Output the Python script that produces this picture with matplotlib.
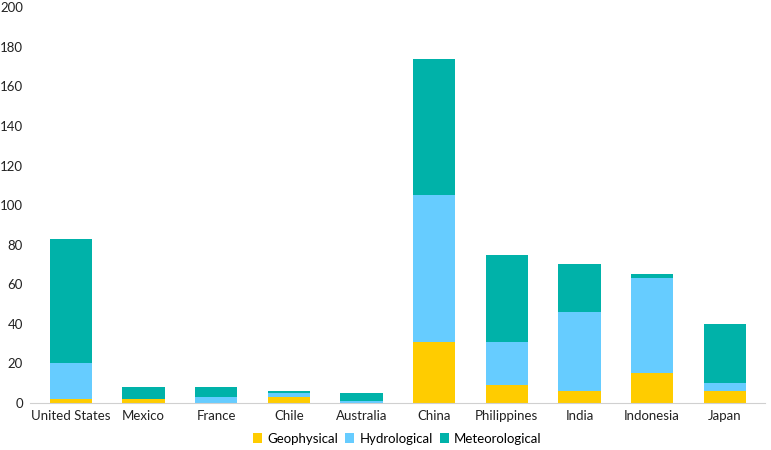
import matplotlib
matplotlib.use("Agg")
import matplotlib.pyplot as plt
import numpy as np

countries = ["United States", "Mexico", "France", "Chile", "Australia",
             "China", "Philippines", "India", "Indonesia", "Japan"]
geophysical = [2, 2, 0, 3, 0, 31, 9, 6, 15, 6]
hydrological = [18, 0, 3, 2, 1, 74, 22, 40, 48, 4]
meteorological = [63, 6, 5, 1, 4, 69, 44, 24, 2, 30]
yticks = [0, 20, 40, 60, 80, 100, 120, 140, 160, 180, 200]

plt.rcParams['font.family'] = ['Lato', 'DejaVu Sans']

fig = plt.figure(figsize=(7.71, 4.5), dpi=100)
ax = fig.add_axes([0.039, 0.1044, 0.953, 0.8796])

x = np.arange(len(countries))
w = 0.58
g = np.array(geophysical)
h = np.array(hydrological)
m = np.array(meteorological)
ax.bar(x, g, w, color="#FFCC00", label="Geophysical")
ax.bar(x, h, w, bottom=g, color="#66CCFF", label="Hydrological")
ax.bar(x, m, w, bottom=g + h, color="#00B2A9", label="Meteorological")

ax.set_ylim(0, 200)
ax.set_xlim(-0.56, 9.55)
ax.set_yticks(yticks)
ax.set_xticks(x)
ax.set_xticklabels(countries)
ax.tick_params(axis='both', length=0, labelsize=9.5, colors="#222222")
ax.tick_params(axis='y', pad=5)
ax.tick_params(axis='x', pad=5)
for s in ["top", "right", "left"]:
    ax.spines[s].set_visible(False)
ax.spines["bottom"].set_color("#D0D0D0")

ax.legend(loc="upper center", bbox_to_anchor=(0.5, -0.045), ncol=3, frameon=False,
          fontsize=9.5, handlelength=0.7, handleheight=0.7, handletextpad=0.4,
          columnspacing=0.5)

fig.savefig("out.png", dpi=100)
